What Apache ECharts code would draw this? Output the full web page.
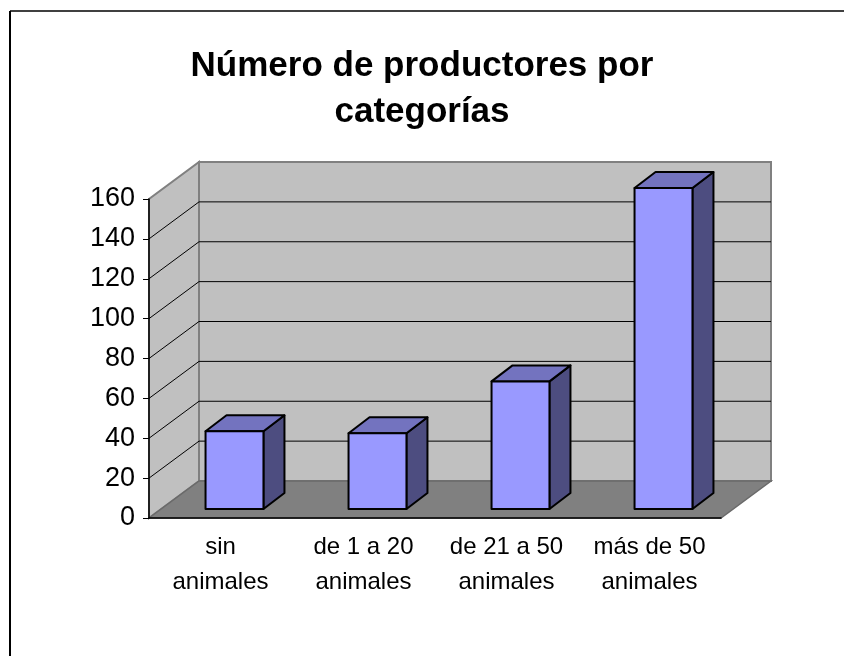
<!DOCTYPE html>
<html>
<head>
<meta charset="utf-8">
<script src="https://cdn.jsdelivr.net/npm/echarts@6/dist/echarts.min.js"></script>
<style>
  html, body { margin: 0; padding: 0; background: #fff; }
  #chart { width: 844px; height: 656px; }
</style>
</head>
<body>
<div id="chart"></div>
<script>
const categories = ['sin\nanimales', 'de 1 a 20\nanimales', 'de 21 a 50\nanimales', 'más de 50\nanimales'];
const productores = [39, 38, 64, 161];
const yTicks = [0, 20, 40, 60, 80, 100, 120, 140, 160];

// 3d look, excel style
const wallDepth = [50, -37];      // front plane -> back wall
const barFront = [14, -9];        // front face of the bar, from front plane
const barDepth = [21, -16];       // thickness of the bar
const frontColor = '#9999FF', topColor = '#7373BF', sideColor = '#4D4D80';

let chart = echarts.init(document.getElementById('chart'));

function renderWalls(params, api) {
  let cs = params.coordSys;
  let x0 = cs.x, x1 = cs.x + cs.width;
  let dx = wallDepth[0], dy = wallDepth[1];
  let yb = api.coord([0, yTicks[0]])[1];
  let yt = api.coord([0, yTicks[yTicks.length - 1]])[1];
  let wallStyle = { fill: '#C0C0C0', stroke: '#808080', lineWidth: 2 };
  let children = [
    { type: 'polygon', shape: { points: [[x0, yb], [x0 + dx, yb + dy], [x0 + dx, yt + dy], [x0, yt]] }, style: wallStyle },
    { type: 'polygon', shape: { points: [[x0 + dx, yt + dy], [x1 + dx, yt + dy], [x1 + dx, yb + dy], [x0 + dx, yb + dy]] }, style: wallStyle },
  ];
  // gridlines on back wall + side wall
  yTicks.slice(1, -1).forEach(v => {
    let y = api.coord([0, v])[1];
    children.push({ type: 'line', shape: { x1: x0 + dx, y1: y + dy, x2: x1 + dx, y2: y + dy }, style: { stroke: '#000', lineWidth: 1 } });
    children.push({ type: 'line', shape: { x1: x0, y1: y, x2: x0 + dx, y2: y + dy }, style: { stroke: '#000', lineWidth: 1 } });
  });
  children.push({
    type: 'polygon',
    shape: { points: [[x0, yb], [x1, yb], [x1 + dx, yb + dy], [x0 + dx, yb + dy]] },
    style: { fill: '#808080', stroke: '#6a6a6a', lineWidth: 1.5 }
  });
  return { type: 'group', children: children };
}

function renderBar(params, api) {
  let top = api.coord([api.value(0), api.value(1)]);
  let base = api.coord([api.value(0), 0]);
  let bw = api.size([1, 0])[0];
  let w = bw * 0.405;
  let xl = top[0] + barFront[0] - w / 2, xr = xl + w;
  let yt = top[1] + barFront[1], yb = base[1] + barFront[1];
  let ddx = barDepth[0], ddy = barDepth[1];
  let edge = { stroke: '#000', lineWidth: 2, lineJoin: 'round' };
  return {
    type: 'group',
    children: [
      { type: 'polygon', shape: { points: [[xr, yt], [xr + ddx, yt + ddy], [xr + ddx, yb + ddy], [xr, yb]] }, style: Object.assign({ fill: sideColor }, edge) },
      { type: 'polygon', shape: { points: [[xl, yt], [xr, yt], [xr + ddx, yt + ddy], [xl + ddx, yt + ddy]] }, style: Object.assign({ fill: topColor }, edge) },
      { type: 'rect', shape: { x: xl, y: yt, width: w, height: yb - yt }, style: Object.assign({ fill: frontColor }, edge) }
    ]
  };
}

chart.setOption({
  animation: false,
  backgroundColor: '#fff',
  title: {
    text: 'Número de productores por\ncategorías',
    left: 'center',
    top: 38,
    textStyle: {
      fontFamily: 'Liberation Sans',
      fontSize: 35,
      fontWeight: 'bold',
      lineHeight: 46,
      color: '#000'
    }
  },
  grid: {
    left: 149,
    right: 123,
    top: 199,
    bottom: 138
  },
  xAxis: {
    type: 'category',
    data: categories,
    z: 5,
    axisLine: { lineStyle: { color: '#000', width: 1.5 } },
    axisTick: { length: 7, lineStyle: { color: '#000' } },
    axisLabel: {
      interval: 0,
      margin: 12,
      fontFamily: 'Liberation Sans',
      fontSize: 24,
      lineHeight: 35,
      color: '#000'
    },
    splitLine: { show: false }
  },
  yAxis: {
    type: 'value',
    min: 0,
    max: 160,
    interval: 20,
    z: 5,
    axisLine: { show: true, lineStyle: { color: '#000', width: 1.5 } },
    axisTick: { show: true, length: 6, lineStyle: { color: '#000' } },
    axisLabel: {
      margin: 14,
      fontFamily: 'Liberation Sans',
      fontSize: 27,
      color: '#000'
    },
    splitLine: { show: false }
  },
  graphic: [
    { type: 'line', shape: { x1: 10, y1: 11, x2: 844, y2: 11 }, style: { stroke: '#404040', lineWidth: 2 } },
    { type: 'line', shape: { x1: 10, y1: 11, x2: 10, y2: 656 }, style: { stroke: '#000', lineWidth: 2 } }
  ],
  series: [
    {
      type: 'custom',
      name: 'walls',
      silent: true,
      z: 1,
      clip: false,
      renderItem: renderWalls,
      data: [[0, 0]]
    },
    {
      type: 'custom',
      name: 'productores',
      z: 3,
      clip: false,
      renderItem: renderBar,
      encode: { x: 0, y: 1 },
      data: productores.map((v, i) => [i, v])
    }
  ]
});
</script>
</body>
</html>
